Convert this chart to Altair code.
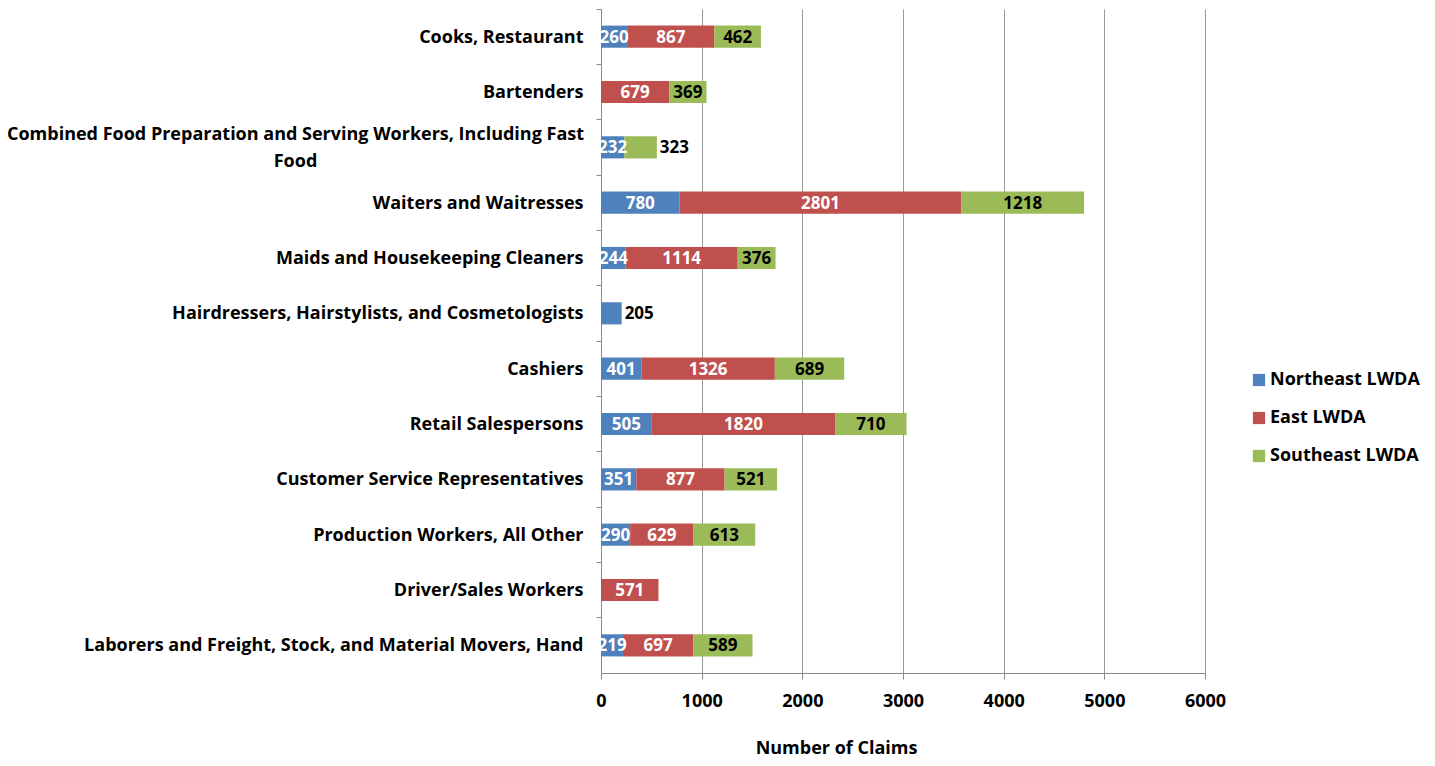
import altair as alt
import pandas as pd

categories = [
    "Cooks, Restaurant",
    "Bartenders",
    "Combined Food Preparation and Serving Workers, Including Fast Food",
    "Waiters and Waitresses",
    "Maids and Housekeeping Cleaners",
    "Hairdressers, Hairstylists, and Cosmetologists",
    "Cashiers",
    "Retail Salespersons",
    "Customer Service Representatives",
    "Production Workers, All Other",
    "Driver/Sales Workers",
    "Laborers and Freight, Stock, and Material Movers, Hand",
]
series = ["Northeast LWDA", "East LWDA", "Southeast LWDA"]
colors = ["#4f81bd", "#c0504d", "#9bbb59"]
label_colors = ["white", "white", "black"]

northeast = [260, None, 232, 780, 244, 205, 401, 505, 351, 290, None, 219]
east = [867, 679, None, 2801, 1114, None, 1326, 1820, 877, 629, 571, 697]
southeast = [462, 369, 323, 1218, 376, None, 689, 710, 521, 613, None, 589]

# labels drawn just past the end of their bar instead of inside it
outside_labels = [
    ("Combined Food Preparation and Serving Workers, Including Fast Food", "Southeast LWDA"),
    ("Hairdressers, Hairstylists, and Cosmetologists", "Northeast LWDA"),
]

x_ticks = [0, 1000, 2000, 3000, 4000, 5000, 6000]

rows = []
for s_i, (name, vals) in enumerate(zip(series, [northeast, east, southeast])):
    for cat, v in zip(categories, vals):
        if v is None:
            continue
        rows.append({
            "category": cat,
            "series": name,
            "order": s_i,
            "value": v,
            "lcolor": label_colors[s_i],
            "outside": (cat, name) in outside_labels,
        })
df = pd.DataFrame(rows)

FONT = "Open Sans"
long_cat = categories[2]
label_expr = (
    f"datum.label == '{long_cat}' ? "
    f"['Combined Food Preparation and Serving Workers, Including Fast', 'Food'] : datum.label"
)
is_long = f"datum.value == '{long_cat}'"

y_enc = alt.Y(
    "category:N",
    sort=categories,
    scale=alt.Scale(paddingInner=0, paddingOuter=0),
    axis=alt.Axis(
        title=None,
        labelExpr=label_expr,
        labelFont=FONT,
        labelFontSize=18,
        labelFontWeight="bold",
        labelColor="black",
        labelAlign={"condition": {"test": is_long, "value": "center"}, "value": "right"},
        labelPadding={"condition": {"test": is_long, "value": 301}, "value": 13},
        labelOffset={"condition": {"test": is_long, "value": -12}, "value": 1},
        labelLimit=700,
        labelLineHeight=27,
        tickSize=5,
        tickColor="#888888",
        domainColor="#888888",
        bandPosition=0,
        grid=False,
    ),
)

base = alt.Chart(df).transform_stack(
    stack="value",
    as_=["x0", "x1"],
    groupby=["category"],
    sort=[alt.SortField("order", order="ascending")],
).transform_calculate(
    mid="(datum.x0 + datum.x1) / 2"
)

bars = base.mark_bar(height=alt.RelativeBandSize(0.4)).encode(
    y=y_enc,
    x=alt.X(
        "x0:Q",
        scale=alt.Scale(domain=[0, 6000], nice=False),
        axis=alt.Axis(
            values=x_ticks,
            title="Number of Claims",
            titleFont=FONT,
            titleFontSize=18,
            titleFontWeight="bold",
            titleColor="black",
            titleX=235,
            titleY=80,
            titleBaseline="alphabetic",
            titleAnchor="middle",
            labelFont=FONT,
            labelFontSize=18,
            labelFontWeight="bold",
            labelColor="black",
            labelPadding=13,
            labelFlush=False,
            tickSize=6,
            tickColor="#888888",
            domainColor="#888888",
            gridColor="#999999",
            gridWidth=1,
            format="d",
        ),
    ),
    x2="x1:Q",
    color=alt.Color(
        "series:N",
        scale=alt.Scale(domain=series, range=colors),
        legend=alt.Legend(
            title=None,
            orient="none",
            legendX=649,
            legendY=362,
            symbolType="square",
            symbolSize=150,
            symbolStrokeWidth=0,
            labelFont=FONT,
            labelFontSize=18,
            labelFontWeight="bold",
            labelColor="black",
            rowPadding=20,
            labelOffset=2,
        ),
    ),
)

inside = base.transform_filter("!datum.outside").mark_text(
    font=FONT, fontSize=17, fontWeight="bold", align="center", baseline="middle", dy=1
).encode(
    y=alt.Y("category:N", sort=categories),
    x=alt.X("mid:Q"),
    text=alt.Text("value:Q"),
    color=alt.Color("lcolor:N", scale=None),
)

outside = base.transform_filter("datum.outside").mark_text(
    font=FONT, fontSize=17, fontWeight="bold", align="left", baseline="middle", dx=3, dy=1, color="black"
).encode(
    y=alt.Y("category:N", sort=categories),
    x=alt.X("x1:Q"),
    text=alt.Text("value:Q"),
)

chart = alt.layer(bars, inside, outside).properties(
    width=604,
    height=664,
    autosize=alt.AutoSizeParams(type="none"),
    padding={"left": 593, "top": 1, "right": 222, "bottom": 85},
).configure_view(stroke=None).configure_axis(
    grid=True
)

chart.save("out.html", embed_options={"renderer": "svg", "actions": False})
